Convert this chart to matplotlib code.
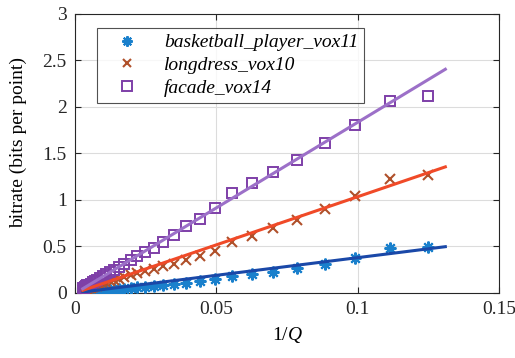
import matplotlib
matplotlib.use("Agg")
import matplotlib.pyplot as plt
from matplotlib.lines import Line2D
import numpy as np

plt.rcParams['font.family'] = ['Liberation Serif', 'DejaVu Serif']
plt.rcParams['mathtext.fontset'] = 'custom'
plt.rcParams['mathtext.rm'] = 'Liberation Serif'
plt.rcParams['mathtext.it'] = 'Liberation Serif:italic'

# 1/Q values
inv_q = [0.125, 0.1114, 0.0992, 0.0884, 0.0787, 0.0702, 0.0625, 0.0557, 0.0496,
         0.0442, 0.0394, 0.0351, 0.03125, 0.0278, 0.0248, 0.0221, 0.0197, 0.0175,
         0.0156, 0.0139, 0.0124, 0.0110, 0.00984, 0.00877, 0.00781, 0.00696,
         0.0062, 0.00552, 0.00492, 0.00438, 0.0039, 0.00348, 0.0031, 0.00276]

basketball = [0.49, 0.48, 0.38, 0.31, 0.265, 0.23, 0.205, 0.183, 0.148, 0.128, 0.108,
              0.095, 0.085, 0.075, 0.068, 0.06, 0.054, 0.048, 0.043, 0.038, 0.034, 0.03,
              0.027, 0.024, 0.021, 0.019, 0.017, 0.015, 0.013, 0.012, 0.011, 0.0095,
              0.0085, 0.0075]
longdress = [1.27, 1.225, 1.045, 0.905, 0.785, 0.695, 0.615, 0.552, 0.455, 0.395, 0.36,
             0.31, 0.285, 0.255, 0.232, 0.21, 0.19, 0.17, 0.155, 0.14, 0.125, 0.112,
             0.1, 0.09, 0.08, 0.072, 0.064, 0.057, 0.051, 0.045, 0.04, 0.036, 0.032,
             0.029]
facade = [2.12, 2.06, 1.81, 1.61, 1.43, 1.30, 1.18, 1.07, 0.915, 0.80, 0.725, 0.62,
          0.545, 0.48, 0.44, 0.395, 0.35, 0.315, 0.28, 0.25, 0.225, 0.2, 0.178, 0.158,
          0.142, 0.127, 0.114, 0.102, 0.091, 0.081, 0.072, 0.064, 0.057, 0.05]

labels = ['basketball_player_vox11', 'longdress_vox10', 'facade_vox14']

# linear fits: slope, intercept, over x range
fit_slope = [3.8, 10.35, 18.4]
fit_intercept = [0.0, 0.0, -0.005]
fit_range = [0.00276, 0.131]

marker_colors = ['#1a80cc', '#b0502a', '#7e3fa8']
line_colors = ['#1a48a8', '#f04a28', '#9c70c8']

fig = plt.figure(figsize=(5.15, 3.58), dpi=100)
ax = fig.add_axes([0.1456, 0.1816, 0.8234, 0.7794])

series = [basketball, longdress, facade]
markers = [(8, 2, 0), 'x', 's']
msizes = [8.5, 6.5, 7.5]

x = np.array(inv_q)
xf = np.array(fit_range)
for ys, m, ms, mc, lc, s, b in zip(series, markers, msizes, marker_colors,
                                   line_colors, fit_slope, fit_intercept):
    if m == 's':
        ax.plot(x, ys, linestyle='none', marker=m, markersize=ms,
                markerfacecolor='none', markeredgecolor=mc, markeredgewidth=1.4, zorder=3)
    else:
        ax.plot(x, ys, linestyle='none', marker=m, markersize=ms,
                markeredgecolor=mc, color=mc, markeredgewidth=1.5, zorder=3)
    ax.plot(xf, s * xf + b, color=lc, linewidth=2.2, zorder=4)

ax.set_xlim(0, 0.15)
ax.set_ylim(0, 3)
ax.set_xticks([0, 0.05, 0.1, 0.15])
ax.set_xticklabels(['0', '0.05', '0.1', '0.15'])
ax.set_yticks([0, 0.5, 1, 1.5, 2, 2.5, 3])
ax.set_yticklabels(['0', '0.5', '1', '1.5', '2', '2.5', '3'])
ax.grid(True, color='#dcdcdc', linewidth=0.8)
ax.set_axisbelow(True)
ax.tick_params(direction='in', top=True, right=True, length=4, width=0.8,
               labelsize=14, colors='#262626', pad=6)
for sp in ax.spines.values():
    sp.set_color('#262626')
    sp.set_linewidth(0.8)

ax.set_xlabel('1/$Q$', fontsize=14, labelpad=5)
ax.set_ylabel('bitrate (bits per point)', fontsize=14, labelpad=6)
ax.yaxis.set_label_coords(-0.113, 0.54)

handles = []
for m, ms, mc in zip(markers, msizes, marker_colors):
    if m == 's':
        handles.append(Line2D([], [], linestyle='none', marker=m, markersize=ms - 1,
                              markerfacecolor='none', markeredgecolor=mc, markeredgewidth=1.4))
    else:
        handles.append(Line2D([], [], linestyle='none', marker=m, markersize=ms - 1,
                              markeredgecolor=mc, color=mc, markeredgewidth=1.5))
leg = ax.legend(handles, labels, loc='upper left', bbox_to_anchor=(0.052, 0.95),
                borderaxespad=0, frameon=True, fancybox=False, edgecolor='#262626',
                prop={'style': 'italic', 'size': 14, 'family': 'Liberation Serif'},
                handlelength=2.5, handletextpad=0.65, borderpad=0.3, labelspacing=0.26)
leg.get_frame().set_linewidth(0.8)

fig.savefig('out.png', dpi=100)
